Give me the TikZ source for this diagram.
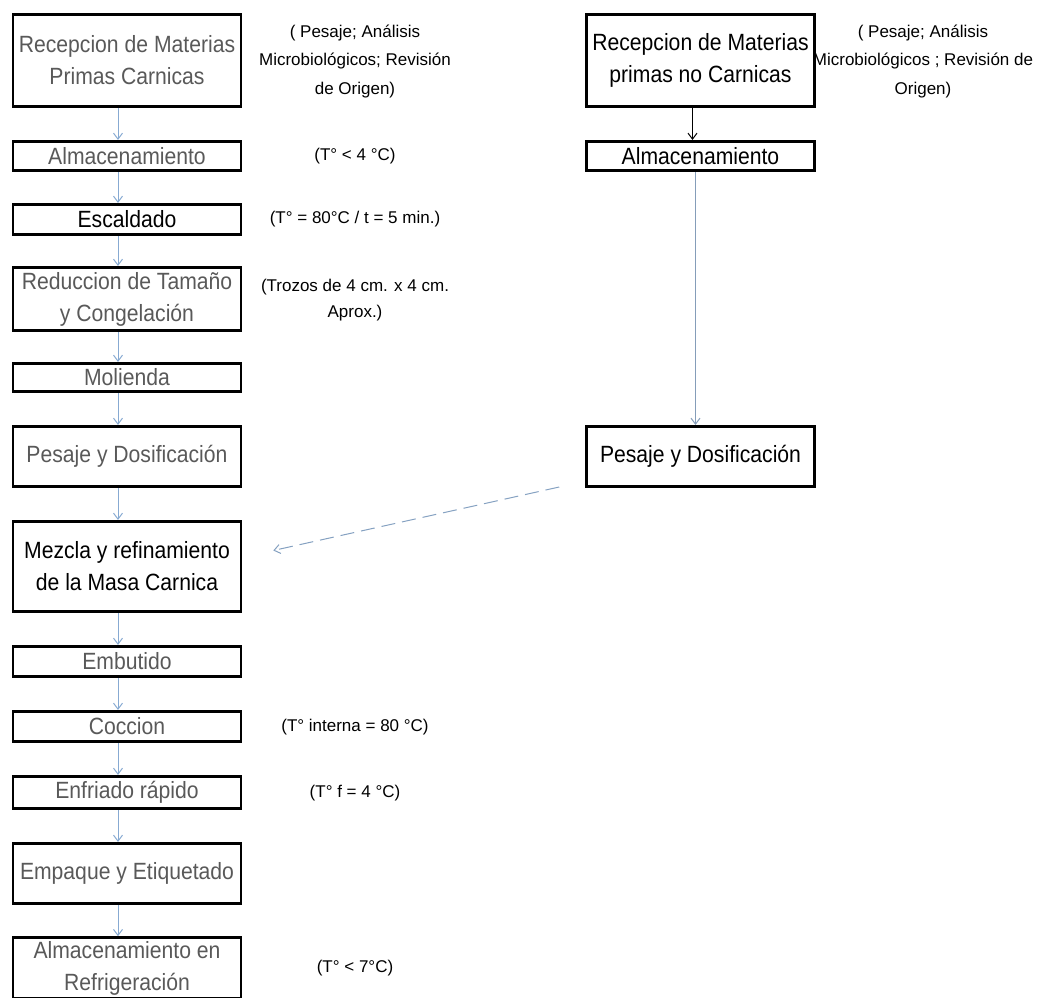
\documentclass[tikz,border=0pt]{standalone}
\usepackage{fontspec}
\setmainfont{Liberation Sans}
\newfontfamily\cajafont[FakeStretch=0.9]{Liberation Sans}
\usetikzlibrary{positioning, arrows.meta}

\definecolor{flecha}{RGB}{135,170,210}

\begin{document}
\begin{tikzpicture}[
    x=1pt, y=-1pt,
    % Estilos de cajas, notas y flechas
    paso/.style={draw, line width=2.6pt, minimum width=228pt, inner sep=0pt, align=center,
        font=\cajafont\fontsize{23.5}{32}\selectfont},
    tenue/.style={text=black!65},
    nota/.style={align=center, font=\fontsize{17}{28.5}\selectfont},
    flujo/.style={draw=flecha, line width=1pt, -{Straight Barb[length=6pt, width=9pt]}},
    ]

    \useasboundingbox (0,0) rectangle (1048,997);

    % COLUMNA IZQUIERDA: materias primas carnicas
    \node[paso, tenue, minimum height=92pt] (recep) at (127,60.5) {Recepcion de Materias\\Primas Carnicas};
    \node[paso, tenue, minimum height=29.5pt] (alm) at (127,156) {Almacenamiento};
    \node[paso, minimum height=30.5pt] (esc) at (127,219.5) {Escaldado};
    \node[paso, tenue, minimum height=63.5pt] (red) at (127,299) {Reduccion de Tamaño\\y Congelación};
    \node[paso, tenue, minimum height=28.5pt] (mol) at (127,377.5) {Molienda};
    \node[paso, tenue, minimum height=60.5pt] (pes) at (127,456.5) {Pesaje y Dosificación};
    \node[paso, minimum height=90.5pt] (mez) at (127,566.5) {Mezcla y refinamiento\\de la Masa Carnica};
    \node[paso, tenue, minimum height=30.5pt] (emb) at (127,661.5) {Embutido};
    \node[paso, tenue, minimum height=30.5pt] (coc) at (127,726.5) {Coccion};
    \node[paso, tenue, minimum height=32.5pt] (enf) at (127,792.5) {Enfriado rápido};
    \node[paso, tenue, minimum height=60.5pt] (emp) at (127,873.5) {Empaque y Etiquetado};
    \node[paso, tenue, minimum height=61pt] (alref) at (127,968) {Almacenamiento en\\Refrigeración};

    % Notas de control
    \node[nota] (n_recep) at (355,61) {( Pesaje; Análisis\\Microbiológicos; Revisión\\de Origen)};
    \node[nota] (n_alm) at (355,156) {(T° < 4 °C)};
    \node[nota] (n_esc) at (355,219) {(T° = 80°C / t = 5 min.)};
    \node[nota, font=\fontsize{17}{26}\selectfont] (n_red) at (355,300) {(Trozos de 4 cm. x 4 cm.\\Aprox.)};
    \node[nota] (n_coc) at (355,727) {(T° interna = 80 °C)};
    \node[nota] (n_enf) at (355,793) {(T° f = 4 °C)};
    \node[nota] (n_alref) at (355,968) {(T° < 7°C)};

    % COLUMNA DERECHA: materias primas no carnicas
    \node[paso, minimum height=92pt] (r_recep) at (700.5,60.5) {Recepcion de Materias\\primas no Carnicas};
    \node[paso, minimum height=29.5pt] (r_alm) at (700.5,156) {Almacenamiento};
    \node[paso, minimum height=60.5pt] (r_pes) at (700.5,456.5) {Pesaje y Dosificación};
    \node[nota] (n_rrecep) at (923,61) {( Pesaje; Análisis\\Microbiológicos ; Revisión de\\Origen)};

    % Flechas del flujo principal
    \draw[flujo] ([xshift=-9pt]recep.south) -- ([xshift=-9pt]alm.north);
    \draw[flujo] ([xshift=-9pt]alm.south) -- ([xshift=-9pt]esc.north);
    \draw[flujo] ([xshift=-9pt]esc.south) -- ([xshift=-9pt]red.north);
    \draw[flujo] ([xshift=-9pt]red.south) -- ([xshift=-9pt]mol.north);
    \draw[flujo] ([xshift=-9pt]mol.south) -- ([xshift=-9pt]pes.north);
    \draw[flujo] ([xshift=-9pt]pes.south) -- ([xshift=-9pt]mez.north);
    \draw[flujo] ([xshift=-9pt]mez.south) -- ([xshift=-9pt]emb.north);
    \draw[flujo] ([xshift=-9pt]emb.south) -- ([xshift=-9pt]coc.north);
    \draw[flujo] ([xshift=-9pt]coc.south) -- ([xshift=-9pt]enf.north);
    \draw[flujo] ([xshift=-9pt]enf.south) -- ([xshift=-9pt]emp.north);
    \draw[flujo] ([xshift=-9pt]emp.south) -- ([xshift=-9pt]alref.north);

    % Flechas de la columna derecha
    \draw[flujo, draw=black] ([xshift=-8pt]r_recep.south) -- ([xshift=-8pt]r_alm.north);
    \draw[flujo, draw=flecha!70!gray] ([xshift=-5pt]r_alm.south) -- ([xshift=-5pt]r_pes.north);

    % Union hacia la mezcla
    \coordinate (d_ini) at ([shift={(-26,30.5)}]r_pes.west);
    \coordinate (d_fin) at ([shift={(31,-16)}]mez.east);
    \draw[flujo, draw=flecha!80!gray, dash pattern=on 14pt off 7pt] (d_ini) -- (d_fin);

\end{tikzpicture}
\end{document}
